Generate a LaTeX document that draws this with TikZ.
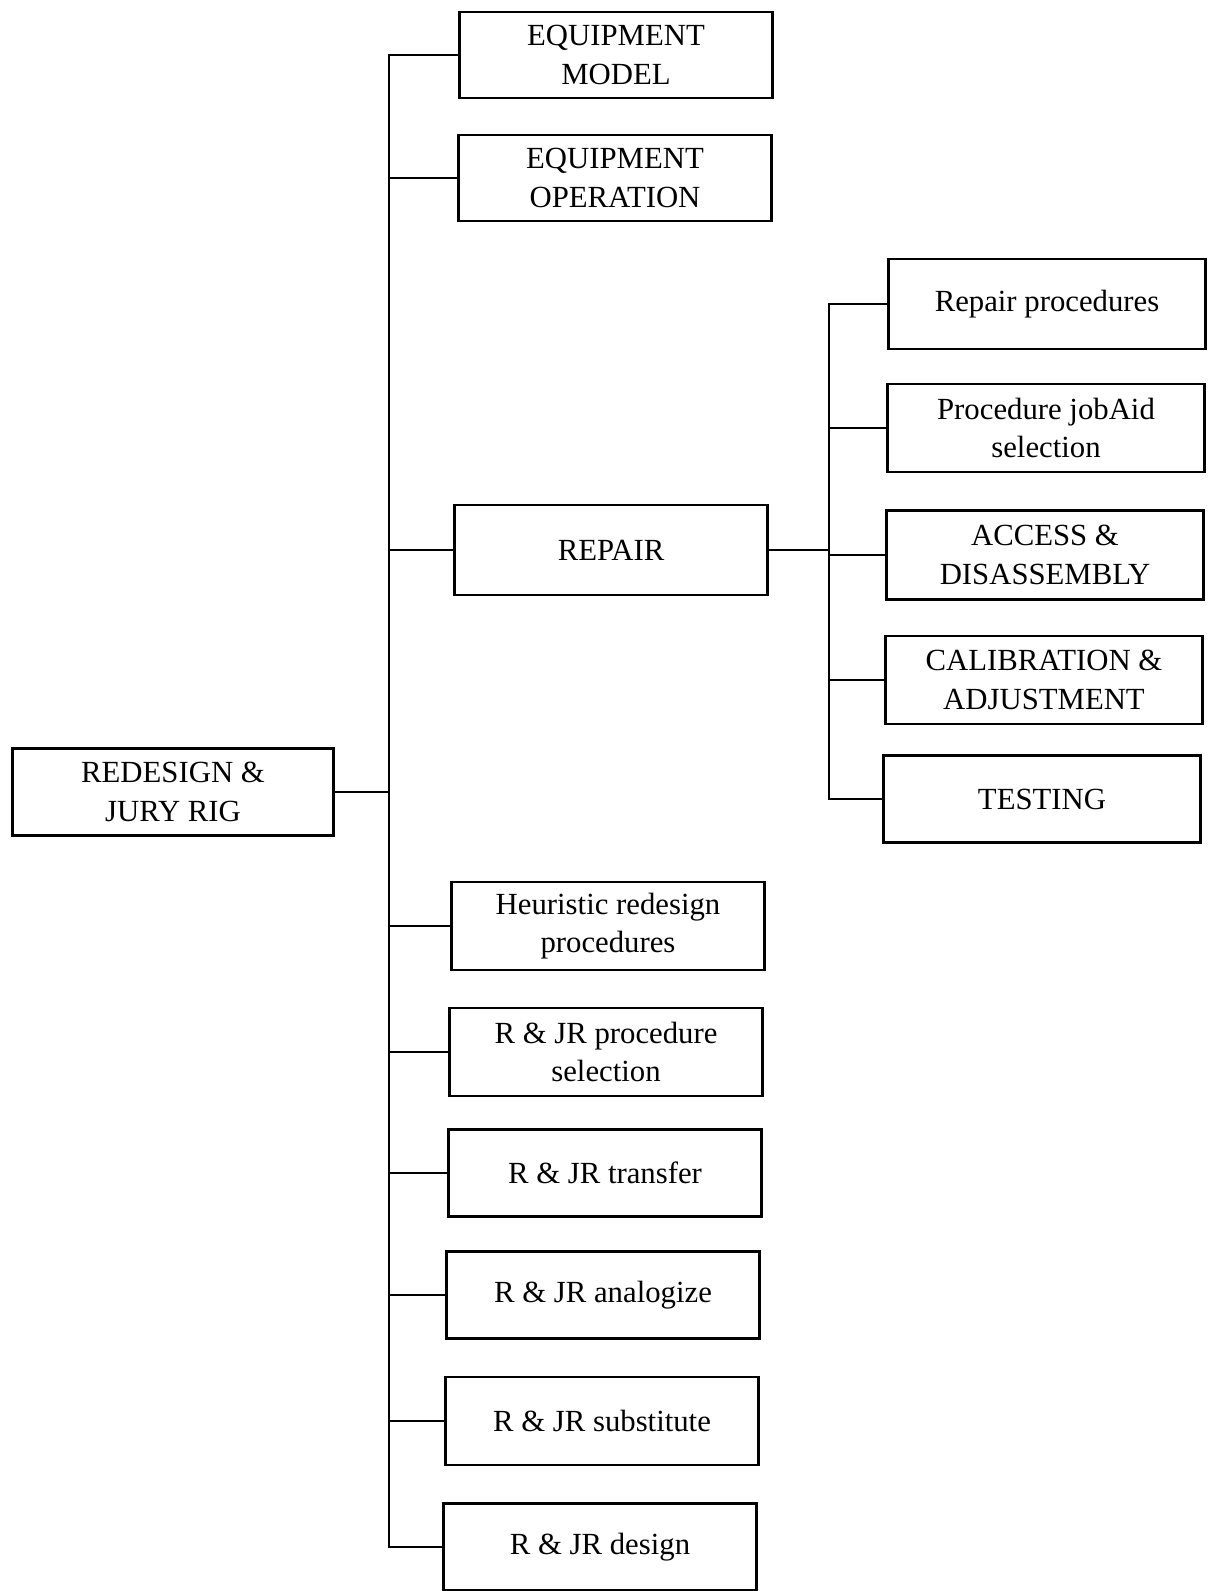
\documentclass[tikz,border=0pt]{standalone}
\usepackage{fontspec}
\setmainfont{Liberation Serif}
\begin{document}
\begin{tikzpicture}[x=0.02cm,y=-0.02cm,
  box/.style={draw, line width=1.5pt, align=center, inner sep=0pt,
    minimum width=6.27cm, minimum height=1.76cm,
    font=\fontsize{17.5}{22}\selectfont},
  rbox/.style={box, minimum width=6.34cm},
  link/.style={line width=1.5pt, line join=miter}]
\useasboundingbox (0,0) rectangle (1207,1591);

% root
\node[box, minimum width=6.42cm, minimum height=1.74cm] (root) at (173,792) {REDESIGN \&\\JURY RIG};

% first-level branches
\node[box, minimum height=1.72cm] (em) at (616,55) {EQUIPMENT\\MODEL};
\node[box, minimum height=1.72cm] (eo) at (615,178) {EQUIPMENT\\OPERATION};
\node[box, minimum height=1.80cm] (rep) at (611,550) {REPAIR};
\node[box] (heu) at (608,926) {Heuristic redesign\\procedures};
\node[box] (psel) at (606,1052) {R \& JR procedure\\selection};
\node[box, minimum height=1.74cm] (trans) at (605,1173) {R \& JR transfer};
\node[box, minimum height=1.74cm] (anal) at (603,1295) {R \& JR analogize};
\node[box] (subst) at (602,1421) {R \& JR substitute};
\node[box, minimum height=1.74cm] (des) at (600,1547) {R \& JR design};

% repair sub-branches
\node[rbox, minimum height=1.80cm] (rp) at (1047,304) {Repair procedures};
\node[rbox] (pjs) at (1046,428) {Procedure jobAid\\selection};
\node[rbox, minimum height=1.78cm] (acc) at (1045,555) {ACCESS \&\\DISASSEMBLY};
\node[rbox] (cal) at (1044,680) {CALIBRATION \&\\ADJUSTMENT};
\node[rbox, minimum height=1.74cm] (tst) at (1042,799) {TESTING};

% x positions of the two trunk lines
\coordinate (lx) at (389,0);
\coordinate (rx) at (829,0);

% left trunk with its end branches
\draw[link] (em.west) -- (em.west -| lx) -- (des.west -| lx) -- (des.west);
\draw[link] (root.east) -- (root.east -| lx);
\foreach \n in {eo,rep,heu,psel,trans,anal,subst}
  \draw[link] (\n.west) -- (\n.west -| lx);

% right trunk with its end branches
\draw[link] (rp.west) -- (rp.west -| rx) -- (tst.west -| rx) -- (tst.west);
\draw[link] (rep.east) -- (rep.east -| rx);
\foreach \n in {pjs,acc,cal}
  \draw[link] (\n.west) -- (\n.west -| rx);
\end{tikzpicture}
\end{document}
